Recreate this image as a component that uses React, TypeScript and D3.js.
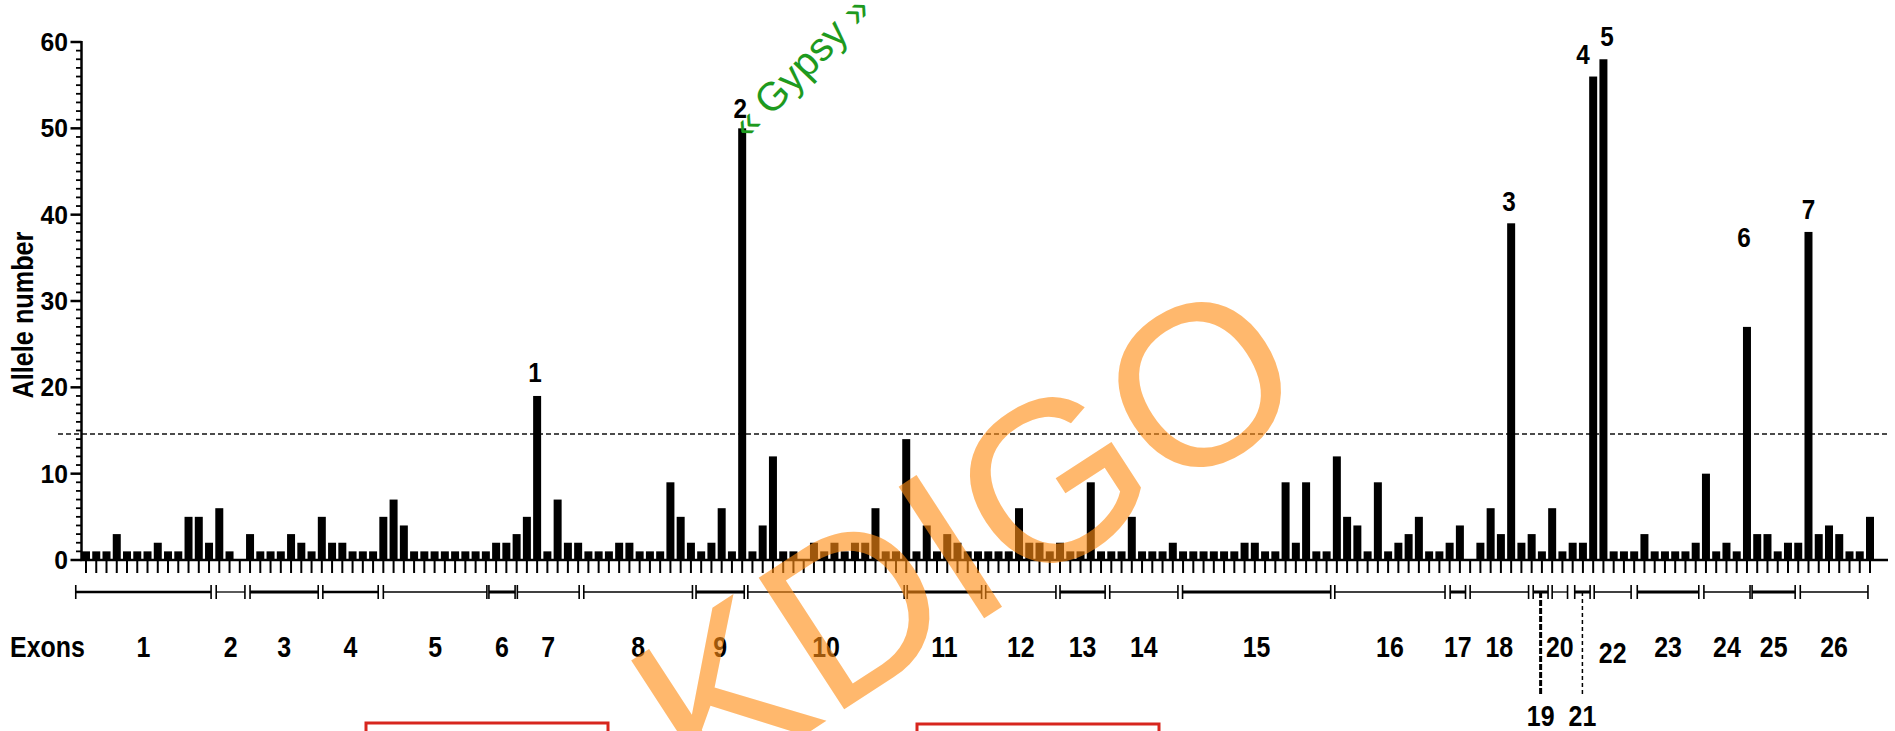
import React from 'react';
import * as d3 from 'd3';

// ---------- data ----------
const alleleCounts: number[] = [
  1, 1, 1, 3, 1, 1, 1, 2, 1, 1, 5, 5, 2, 6, 1, 0, 3, 1, 1, 1, 3, 2, 1, 5, 2, 2, 1, 1,
  1, 5, 7, 4, 1, 1, 1, 1, 1, 1, 1, 1, 2, 2, 3, 5, 19, 1, 7, 2, 2, 1, 1, 1, 2, 2, 1, 1, 1, 9,
  5, 2, 1, 2, 6, 1, 50, 1, 4, 12, 1, 1, 0, 2, 1, 2, 1, 2, 2, 6, 1, 1, 14, 1, 4, 1, 3, 2, 1,
  1, 1, 1, 1, 6, 2, 2, 1, 2, 1, 1, 9, 1, 1, 1, 5, 1, 1, 1, 2, 1, 1, 1, 1, 1, 1, 2, 2, 1,
  1, 9, 2, 9, 1, 1, 12, 5, 4, 1, 9, 1, 2, 3, 5, 1, 1, 2, 4, 0, 2, 6, 3, 39, 2, 3, 1, 6, 1,
  2, 2, 56, 58, 1, 1, 1, 3, 1, 1, 1, 1, 2, 10, 1, 2, 1, 27, 3, 3, 1, 2, 2, 38, 3, 4, 3, 1, 1, 5,
];

const threshold = 14.6;
const yTickValues = [0, 10, 20, 30, 40, 50, 60];

// peak annotations: bar index, label, label height (allele units)
const peakIndex = [44, 64, 139, 147, 148, 162, 168];
const peakLabel = ['1', '2', '3', '4', '5', '6', '7'];
const peakLabelLevel = [21.8, 52.4, 41.6, 58.6, 60.7, 37.4, 40.7];
const peakLabelShift = [-0.2, -0.2, -0.2, -1, 0.35, -0.3, 0];

// exons, positions in bar-index units
const exonNames = ['1','2','3','4','5','6','7','8','9','10','11','12','13','14','15','16','17','18','19','20','21','22','23','24','25','26'];
const exonStart = [-1.0, 12.7, 16.0, 23.1, 29.0, 39.3, 42.07, 48.55, 59.5, 64.55, 80.1, 87.75, 95.0, 99.85, 106.95, 121.8, 133.05, 135.0, 141.15, 143.0, 145.2, 147.1, 151.3, 157.8, 162.5, 167.2];
const exonEnd = [12.2, 15.5, 22.65, 28.5, 39.1, 41.85, 48.1, 59.15, 64.2, 79.8, 87.35, 94.6, 99.4, 106.5, 121.4, 132.55, 134.55, 140.7, 142.6, 144.5, 146.7, 150.7, 157.3, 162.3, 166.7, 173.8];
const exonWeight = [2.5, 1.3, 3, 2.5, 1.3, 3, 1.3, 1.3, 3, 1.3, 3, 1.3, 3, 1.3, 3, 1.3, 3, 1.3, 3, 1.3, 3, 1.3, 3, 1.3, 3, 1.3];
const exonBelow = ['19', '21'];

const W = 1895;
const H = 731;
const SANS = "'Liberation Sans',Arial,Helvetica,sans-serif";

function CText(props: { x: number; y: number; size: number; sx?: number; anchor?: string; rotate?: number; children: React.ReactNode; baseline?: string }) {
  const { x, y, size, sx = 0.86, anchor = 'middle', rotate = 0, children, baseline } = props;
  return (
    <g transform={`translate(${x},${y}) rotate(${rotate}) scale(${sx},1)`}>
      <text x={0} y={0} textAnchor={anchor} dominantBaseline={baseline} fontFamily={SANS} fontWeight="bold" fontSize={size}>{children}</text>
    </g>
  );
}

export default function App() {
  const n = alleleCounts.length;
  const x = d3.scaleBand<number>().domain(d3.range(n)).range([82, 1874]).paddingInner(0.22).paddingOuter(0);
  const bw = x.bandwidth();
  const cx = (i: number) => (x(i) as number) + bw / 2;
  const xi = d3.scaleLinear().domain([0, n - 1]).range([cx(0), cx(n - 1)]);
  const y = d3.scaleLinear().domain([0, 60]).range([560, 42]);
  const y0 = y(0);
  const axisX = 81.5;
  const segY = 592;
  const labelY = 657;

  return (
    <svg width={W} height={H} style={{ position: 'absolute', left: 0, top: 0, background: '#fff' }}>
      <rect x={0} y={0} width={W} height={H} fill="#fff" />
      {/* threshold */}
      <line x1={58} x2={1890} y1={y(threshold)} y2={y(threshold)} stroke="#111" strokeWidth={1.5} strokeDasharray="5,3" />
      {/* bars */}
      {alleleCounts.map((v, i) => (
        v > 0 ? <rect key={i} x={x(i)} y={y(v)} width={bw} height={y0 - y(v)} fill="#000" /> : null
      ))}
      {/* y axis */}
      <line x1={axisX} x2={axisX} y1={y0 + 1} y2={y(60) - 1} stroke="#000" strokeWidth={2.5} />
      {d3.range(0, 61).map((t) => (
        <line key={'m' + t} x1={axisX} x2={t % 10 === 0 ? axisX - 11 : axisX - 5.5} y1={y(t)} y2={y(t)} stroke="#000" strokeWidth={t % 10 === 0 ? 2.5 : 1.8} />
      ))}
      {yTickValues.map((t) => (
        <CText key={'t' + t} x={68} y={y(t) + 9} size={26} sx={0.95} anchor="end">{t}</CText>
      ))}
      <CText x={33} y={(y(0) + y(60)) / 2 + 14} size={29} sx={0.87} rotate={-90}>Allele number</CText>
      {/* x axis */}
      <line x1={axisX - 1} x2={1888} y1={y0} y2={y0} stroke="#000" strokeWidth={2.5} />
      {alleleCounts.map((_, i) => (
        <line key={'xt' + i} x1={cx(i)} x2={cx(i)} y1={y0} y2={y0 + 13} stroke="#000" strokeWidth={2} />
      ))}
      {/* peak labels */}
      {peakIndex.map((idx, k) => (
        <CText key={'p' + k} x={cx(idx) + peakLabelShift[k] * x.step()} y={y(peakLabelLevel[k]) + 10} size={27} sx={0.9}>{peakLabel[k]}</CText>
      ))}
      {/* Gypsy */}
      <text transform={`translate(${cx(64) + 6},141) rotate(-46)`} fontFamily={SANS} fontSize={40} fill="#1e9a1e">« Gypsy »</text>
      {/* exons */}
      <CText x={10} y={labelY} size={29} anchor="start">Exons</CText>
      {exonNames.map((name, k) => {
        const a = xi(exonStart[k]);
        const b = xi(exonEnd[k]);
        const mid = (a + b) / 2;
        const below = exonBelow.includes(name);
        return (
          <g key={'e' + k}>
            <line x1={a} x2={b} y1={segY} y2={segY} stroke="#000" strokeWidth={exonWeight[k]} />
            <line x1={a} x2={a} y1={segY - 7} y2={segY + 7} stroke="#000" strokeWidth={1.6} />
            <line x1={b} x2={b} y1={segY - 7} y2={segY + 7} stroke="#000" strokeWidth={1.6} />
            {below ? (
              <g>
                <line x1={mid} x2={mid} y1={segY} y2={696} stroke="#000" strokeWidth={name === '19' ? 3 : 1.5} strokeDasharray={name === '19' ? '6,2' : '4,3'} />
                <CText x={mid} y={726} size={29}>{name}</CText>
              </g>
            ) : (
              <CText x={mid} y={labelY + (name === '22' ? 6 : 0)} size={29}>{name}</CText>
            )}
          </g>
        );
      })}
      {/* red boxes */}
      <rect x={366} y={723} width={242} height={40} fill="none" stroke="#d7261e" strokeWidth={3} />
      <rect x={917} y={724} width={242} height={40} fill="none" stroke="#d7261e" strokeWidth={3} />
      {/* watermark */}
      <text transform="translate(966,536) rotate(-33)" textAnchor="middle" dominantBaseline="central" fontFamily={SANS} fontSize={228} fill="rgb(255,140,20)" fillOpacity={0.62}>KDIGO</text>
    </svg>
  );
}
